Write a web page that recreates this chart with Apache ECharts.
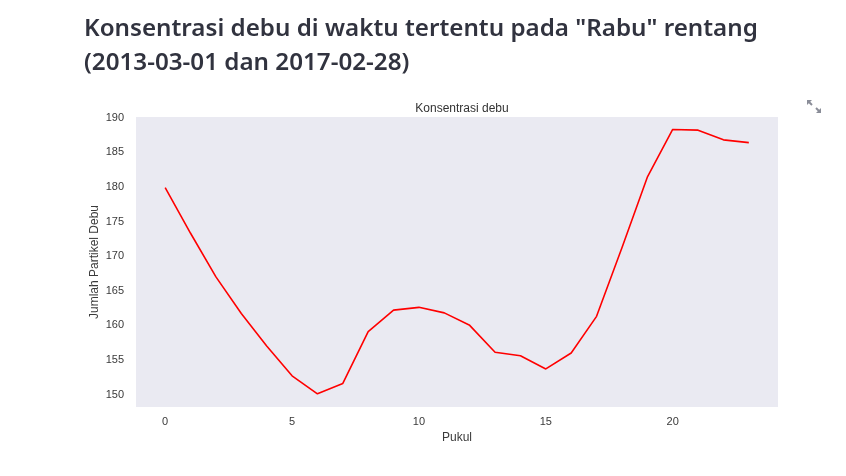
<!DOCTYPE html>
<html>
<head>
<meta charset="utf-8">
<script src="https://cdn.jsdelivr.net/npm/echarts@6/dist/echarts.min.js"></script>
<style>
html,body{margin:0;padding:0;background:#fff;}
#chart{width:846px;height:476px;}
</style>
</head>
<body>
<div id="chart"></div>
<script>
// Data
const hours = [0,1,2,3,4,5,6,7,8,9,10,11,12,13,14,15,16,17,18,19,20,21,22,23];
const dust = [179.9,173.3,167.0,161.7,157.0,152.7,150.1,151.6,159.1,162.2,162.6,161.8,160.0,156.1,155.6,153.7,156.0,161.3,171.2,181.4,188.3,188.2,186.8,186.4];
const xTicks = [0,5,10,15,20];
const yTicks = [150,155,160,165,170,175,180,185,190];
const titleLines = ['Konsentrasi debu di waktu tertentu pada "Rabu" rentang', '(2013-03-01 dan 2017-02-28)'];
const plotTitle = 'Konsentrasi debu';
const xName = 'Pukul';
const yName = 'Jumlah Partikel Debu';

// fit heading font to reference width
const titleFamily = '"Noto Sans", "Open Sans", sans-serif';
const cv = document.createElement('canvas').getContext('2d');
cv.font = '600 28px ' + titleFamily;
const w28 = cv.measureText(titleLines[0]).width;
const titleSize = Math.min(28, 28 * 674 / w28);

const chart = echarts.init(document.getElementById('chart'), null, {renderer:'canvas'});
const gridL = 136, gridR = 68, gridT = 117, gridB = 69;
const option = {
  backgroundColor: '#ffffff',
  animation: false,
  grid: {left: gridL, right: gridR, top: gridT, bottom: gridB, show: true, backgroundColor: '#EAEAF2', borderWidth: 0, containLabel: false},
  title: {
    text: plotTitle, left: 457, top: 98, textAlign: 'center',
    textStyle: {fontFamily: '"Liberation Sans", Arial, sans-serif', fontSize: 12, fontWeight: 'normal', color: '#333333'}
  },
  xAxis: {
    type: 'value', min: -1.15, max: 24.15,
    name: xName, nameLocation: 'middle', nameGap: 25, nameMoveOverlap: false,
    nameTextStyle: {fontFamily: '"Liberation Sans", Arial, sans-serif', fontSize: 12, color: '#3a3a3a'},
    axisLine: {show: false}, axisTick: {show: false}, splitLine: {show: false},
    axisLabel: {customValues: xTicks, margin: 9, fontFamily: '"Liberation Sans", Arial, sans-serif', fontSize: 11, color: '#3a3a3a', formatter: v => String(v)}
  },
  yAxis: {
    type: 'value', min: 148.2, max: 190.1,
    name: yName, nameLocation: 'middle', nameGap: 35, nameRotate: 90, nameMoveOverlap: false,
    nameTextStyle: {fontFamily: '"Liberation Sans", Arial, sans-serif', fontSize: 12, color: '#3a3a3a'},
    axisLine: {show: false}, axisTick: {show: false}, splitLine: {show: false},
    axisLabel: {customValues: yTicks, margin: 12, fontFamily: '"Liberation Sans", Arial, sans-serif', fontSize: 11, color: '#3a3a3a', formatter: v => String(v)}
  },
  series: [{
    type: 'line', data: hours.map((h, i) => [h, dust[i]]),
    showSymbol: false, symbol: 'none',
    lineStyle: {color: '#ff0000', width: 1.6},
    itemStyle: {color: '#ff0000'}
  }],
  graphic: [
    {type: 'text', left: 84, top: 17, style: {text: titleLines[0], font: '600 ' + titleSize + 'px ' + titleFamily, fill: '#31333F'}},
    {type: 'text', left: 84, top: 51, style: {text: titleLines[1], font: '600 ' + titleSize + 'px ' + titleFamily, fill: '#31333F'}},
    {type: 'polygon', shape: {points: [[807,100],[812,100],[807,105]]}, style: {fill: '#8a8d98'}},
    {type: 'line', shape: {x1: 808, y1: 101, x2: 812, y2: 105}, style: {stroke: '#8a8d98', lineWidth: 2}},
    {type: 'polygon', shape: {points: [[821,113],[816,113],[821,108]]}, style: {fill: '#8a8d98'}},
    {type: 'line', shape: {x1: 820, y1: 112, x2: 816, y2: 108}, style: {stroke: '#8a8d98', lineWidth: 2}}
  ]
};
chart.setOption(option);
</script>
</body>
</html>
